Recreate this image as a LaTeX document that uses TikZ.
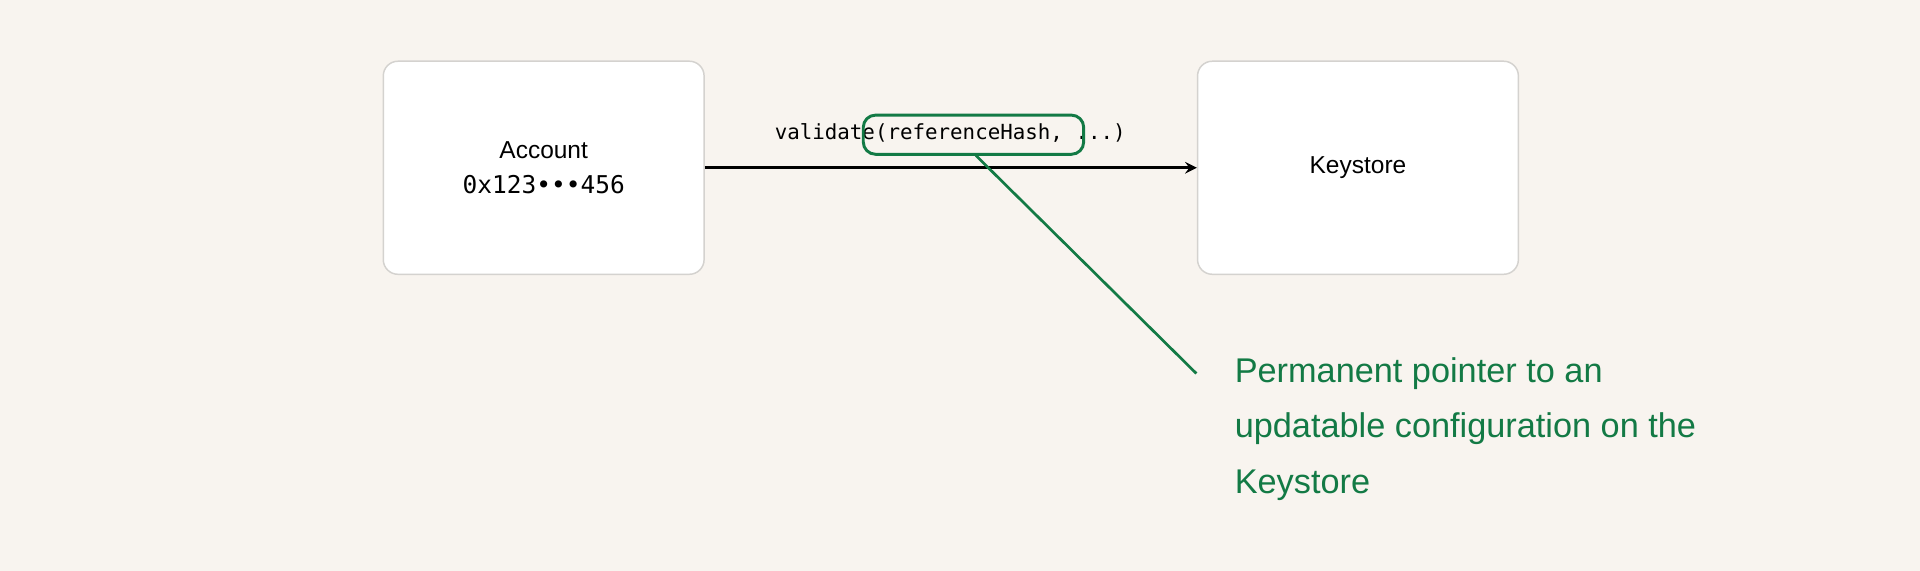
\documentclass[tikz,border=0pt]{standalone}
\usepackage{fontspec}
\setmainfont{Liberation Sans}
\setmonofont{DejaVu Sans Mono}
\usetikzlibrary{positioning}
\definecolor{bgcol}{HTML}{F8F4EF}
\definecolor{keygreen}{HTML}{137A45}
\definecolor{boxline}{HTML}{D4D2CF}
\tikzset{
  card/.style={draw=boxline, line width=0.6pt, fill=white, rounded corners=6pt,
    minimum width=131pt, minimum height=87pt, align=center, font=\fontsize{10}{13}\selectfont},
}
\begin{document}
\begin{tikzpicture}[x=0.5pt,y=-0.5pt]
    % background
    \fill[bgcol] (0,0) rectangle (1568,466);
    \useasboundingbox (0,0) rectangle (1568,466);

    % the two boxes
    \node[card] (account) at (444,137) {Account\\[1pt]{\ttfamily 0x123•••456}};
    \node[card] (keystore) at (1109,137) {Keystore};

    \draw[->, >=stealth, line width=1.1pt] (account.east) -- (keystore.west);
    \node[font=\ttfamily\fontsize{8.5}{10}\selectfont] (call) at (776,109)
        {validate(referenceHash, ...)};

    % highlight
    \draw[keygreen, line width=1.2pt, rounded corners=5pt] (705,94) rectangle (885,126);
    \coordinate (hashbot) at (797,127);
    \coordinate (noteend) at (977,305);
    \draw[keygreen, line width=1.1pt] (hashbot) -- (noteend);
    \node[keygreen, anchor=north west, align=left, inner sep=0pt,
          font=\fontsize{14}{22.5}\selectfont] (note) at (1008,292)
        {Permanent pointer to an\\updatable configuration on the\\Keystore};
\end{tikzpicture}
\end{document}
